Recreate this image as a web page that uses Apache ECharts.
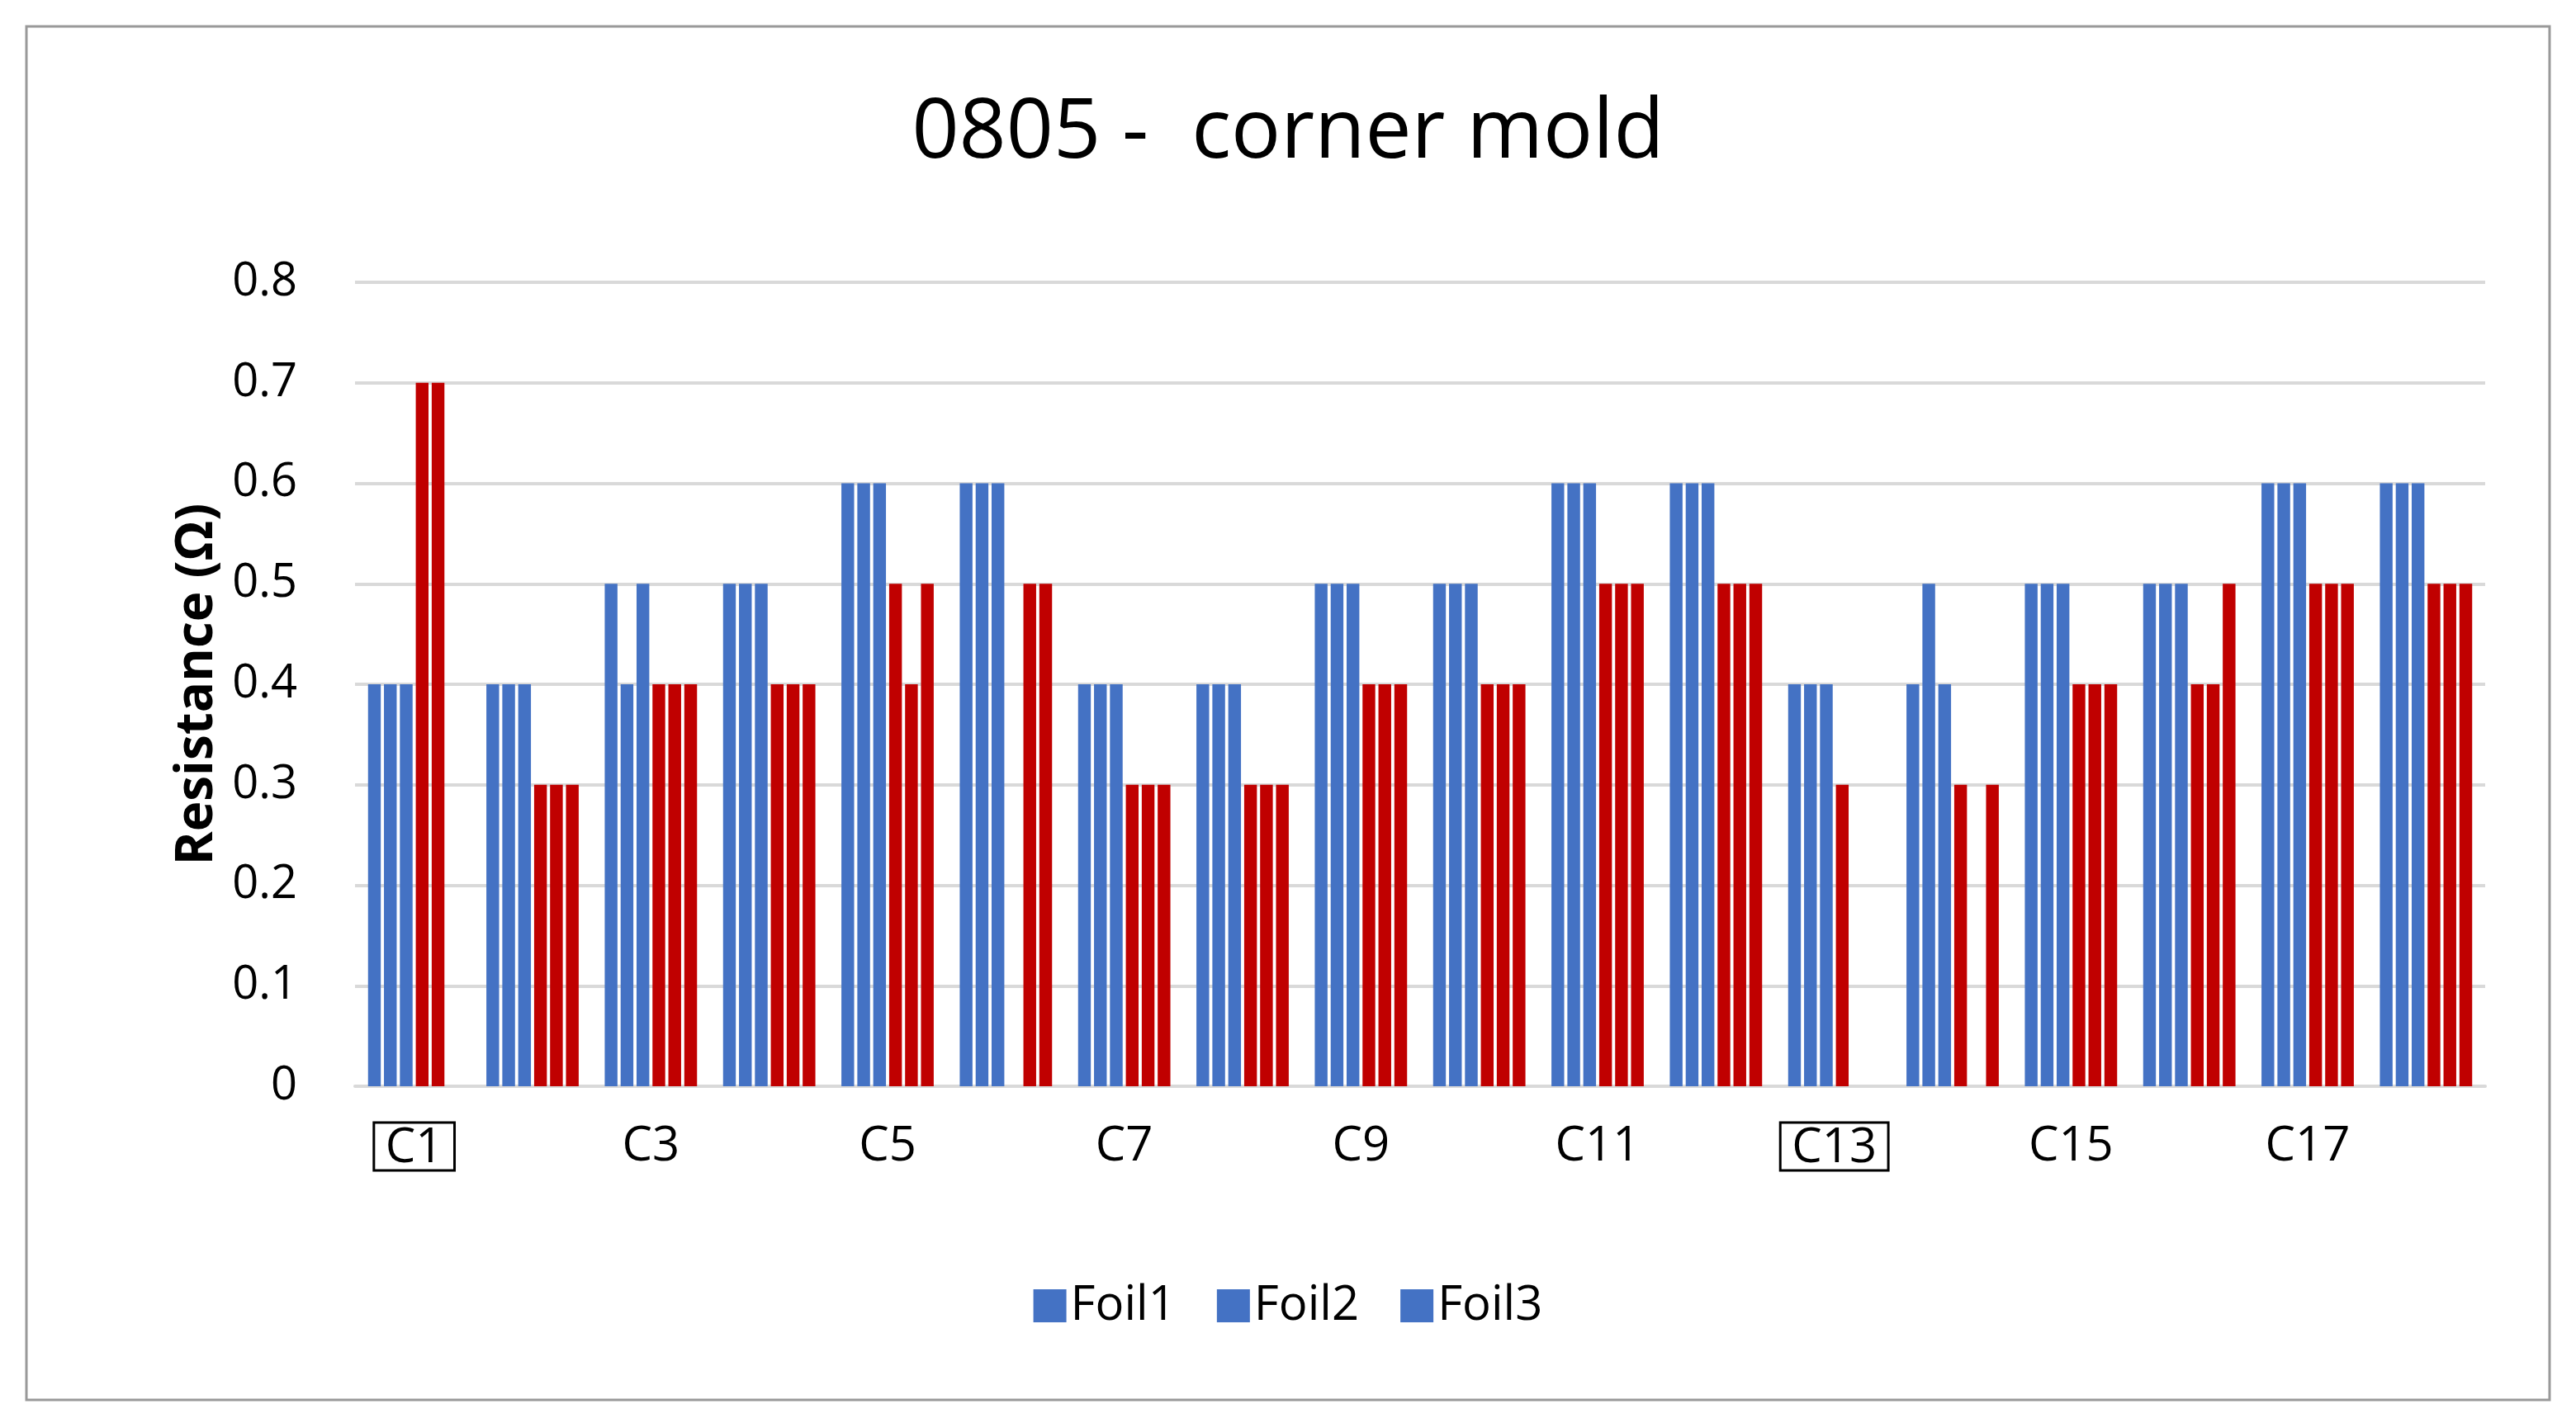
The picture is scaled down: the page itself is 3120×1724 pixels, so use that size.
<!DOCTYPE html>
<html><head><meta charset="utf-8">
<script src="https://cdn.jsdelivr.net/npm/echarts@6/dist/echarts.min.js"></script>
<style>html,body{margin:0;background:#fff}#c{width:3120px;height:1724px}</style>
</head><body><div id="c"></div>
<script>
const categories=['C1','C2','C3','C4','C5','C6','C7','C8','C9','C10','C11','C12','C13','C14','C15','C16','C17','C18'];
const boxed=['C1','C6','C13','C14'];
const blueFoil1=[0.4,0.4,0.5,0.5,0.6,0.6,0.4,0.4,0.5,0.5,0.6,0.6,0.4,0.4,0.5,0.5,0.6,0.6];
const blueFoil2=[0.4,0.4,0.4,0.5,0.6,0.6,0.4,0.4,0.5,0.5,0.6,0.6,0.4,0.5,0.5,0.5,0.6,0.6];
const blueFoil3=[0.4,0.4,0.5,0.5,0.6,0.6,0.4,0.4,0.5,0.5,0.6,0.6,0.4,0.4,0.5,0.5,0.6,0.6];
const redFoil1=[0.7,0.3,0.4,0.4,0.5,null,0.3,0.3,0.4,0.4,0.5,0.5,0.3,0.3,0.4,0.4,0.5,0.5];
const redFoil2=[0.7,0.3,0.4,0.4,0.4,0.5,0.3,0.3,0.4,0.4,0.5,0.5,null,null,0.4,0.4,0.5,0.5];
const redFoil3=[null,0.3,0.4,0.4,0.5,0.5,0.3,0.3,0.4,0.4,0.5,0.5,null,0.3,0.4,0.5,0.5,0.5];
const BLUE='#4472C4',RED='#C00000';
const mk=(name,data,color)=>({name,type:'bar',data,itemStyle:{color},barGap:'25%',barCategoryGap:'22%'});
const chart=echarts.init(document.getElementById('c'));
chart.setOption({
  animation:false,
  graphic:[{type:'rect',shape:{x:32,y:32,width:3056,height:1664},style:{fill:'none',stroke:'#999',lineWidth:3}}],
  title:{text:'0805 -  corner mold',left:'center',top:108,textStyle:{fontFamily:'Open Sans',fontSize:100,fontWeight:'normal',color:'#000'}},
  grid:{left:430,right:110,top:342,bottom:408},
  legend:{bottom:108,left:'center',itemWidth:40,itemHeight:40,itemGap:50,icon:'rect',textStyle:{fontFamily:'Open Sans',fontSize:58,color:'#000'}},
  xAxis:{type:'category',data:categories,axisTick:{show:false},axisLine:{lineStyle:{color:'#d9d9d9',width:4}},
    axisLabel:{margin:44,fontFamily:'Open Sans',fontSize:58,color:'#000',
      formatter:v=>boxed.includes(v)?'{b|'+v+'}':v,
      rich:{b:{fontFamily:'Open Sans',fontSize:58,color:'#000',borderColor:'#000',borderWidth:3,padding:[2,14,-2,14]}}}},
  yAxis:{type:'value',min:0,max:0.8,interval:0.1,name:'Resistance (Ω)',nameLocation:'middle',nameGap:150,
    nameTextStyle:{fontFamily:'Open Sans',fontSize:62,fontWeight:'bold',color:'#000'},
    axisLabel:{margin:70,fontFamily:'Open Sans',fontSize:56,color:'#000',formatter:v=>String(+v.toFixed(1))},
    splitLine:{lineStyle:{color:'#d9d9d9',width:4}}},
  series:[mk('Foil1',blueFoil1,BLUE),mk('Foil2',blueFoil2,BLUE),mk('Foil3',blueFoil3,BLUE),
          mk('Foil1',redFoil1,RED),mk('Foil2',redFoil2,RED),mk('Foil3',redFoil3,RED)]
});
</script></body></html>
